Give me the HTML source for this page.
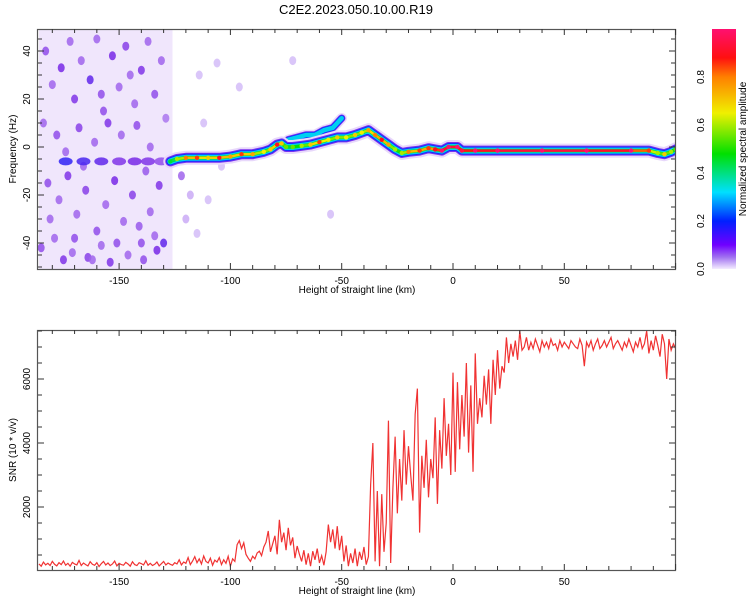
<!DOCTYPE html>
<html><head><meta charset="utf-8"><style>
body{margin:0;background:#fff;width:750px;height:600px;overflow:hidden}
svg{display:block;font-family:"Liberation Sans",sans-serif}
</style></head><body>
<svg id="chart" width="750" height="600" xmlns="http://www.w3.org/2000/svg">
<defs>
<linearGradient id="cbg" x1="0" y1="1" x2="0" y2="0">
<stop offset="0" stop-color="#f4ecff"/><stop offset="0.05" stop-color="#a070f0"/><stop offset="0.1" stop-color="#7000ff"/>
<stop offset="0.2" stop-color="#0020ff"/><stop offset="0.32" stop-color="#00e0ff"/><stop offset="0.48" stop-color="#00e000"/>
<stop offset="0.65" stop-color="#f0f000"/><stop offset="0.8" stop-color="#ff8000"/><stop offset="0.88" stop-color="#ff1010"/>
<stop offset="1" stop-color="#ff1070"/></linearGradient>
<clipPath id="c1"><rect x="38" y="30" width="637" height="239"/></clipPath>
<clipPath id="c2"><rect x="38" y="331" width="637" height="239"/></clipPath>
</defs>
<text x="356" y="14" font-size="13" text-anchor="middle">C2E2.2023.050.10.00.R19</text>
<g id="gtop" clip-path="url(#c1)"></g>
<g id="gbot" clip-path="url(#c2)"></g>
<g id="gaxes"></g>
<rect x="712" y="29" width="24" height="240" fill="url(#cbg)"/>
<text transform="translate(746,149) rotate(-90)" font-size="10" text-anchor="middle">Normalized spectral amplitude</text>
</svg>
<script>
const ridgeKm=[-127,-124,-120,-115,-110,-105,-100,-95,-90,-85,-82,-79,-77,-75,-72,-68,-64,-60,-56,-52,-48,-44,-41,-38,-35,-32,-29,-26,-23,-20,-15,-11,-8,-5,-2,2,4,10,20,40,60,80,88,92,95,98,100];
const ridgeF=[-6,-5,-4.5,-4.5,-4.5,-4.5,-4,-3,-3,-2,-1,1,1.5,0,0,0.5,1,2,3,4,4,5,6,7,5,3,1,-1,-2.5,-2,-1.5,-0.5,-1,-1.5,0,0,-1.5,-1.5,-1.5,-1.5,-1.5,-1.5,-1.5,-2.5,-3,-2,-1];
const ridgeAmp=[0.35,0.5,0.7,0.75,0.6,0.8,0.65,0.75,0.65,0.55,0.6,0.8,0.6,0.45,0.45,0.5,0.6,0.75,0.55,0.6,0.55,0.6,0.55,0.65,0.7,0.8,0.65,0.5,0.5,0.7,0.75,0.75,0.8,0.9,0.95,0.9,0.85,0.9,0.92,0.95,0.93,0.9,0.75,0.5,0.6,0.5,0.45];
const branchKm=[-74,-70,-66,-62,-58,-54,-52,-50];
const branchF=[3,4,5,5,7,8,10,12];
const blobKm=[-183,-180,-176,-172,-170,-167,-163,-160,-157,-153,-150,-147,-143,-140,-137,-134,-131,-129,-184,-178,-174,-168,-161,-155,-149,-142,-136,-182,-177,-173,-169,-165,-160,-156,-152,-148,-144,-140,-136,-132,-130,-185,-179,-175,-171,-164,-158,-154,-146,-139,-133,-181,-166,-158,-145,-138,-170,-162,-151,-141,-134,-174,-166,-158,-150,-143,-137,-131,-122,-118,-114,-110,-106,-115,-104,-96,-72,-55,-120,-112];
const blobF=[40,26,33,44,20,36,28,45,15,38,25,42,18,32,44,22,36,12,10,5,-2,8,2,10,5,9,0,-15,-22,-12,-28,-18,-35,-24,-14,-31,-20,-40,-27,-16,-40,-42,-38,-47,-44,-46,-41,-48,-45,-47,-43,-30,-8,22,30,-10,-38,-47,-40,-33,-37,-6,-6,-6,-6,-6,-6,-6,-12,-20,30,-22,35,-36,-8,25,36,-28,-30,10];
const blobA=[.12,.1,.15,.1,.14,.1,.16,.1,.12,.15,.1,.13,.1,.14,.1,.12,.1,.09,.1,.12,.1,.13,.1,.14,.1,.12,.1,.12,.1,.14,.1,.13,.12,.1,.15,.1,.13,.12,.1,.14,.16,.12,.1,.14,.1,.13,.1,.14,.1,.12,.15,.1,.1,.12,.1,.11,.12,.1,.12,.11,.1,.18,.17,.16,.14,.15,.14,.12,.1,.06,.05,.05,.05,.05,.05,.05,.05,.05,.06,.05];
const snrStart=-186;
const snr=[220,150,280,190,240,170,300,210,160,260,200,310,180,240,150,270,220,190,330,170,250,200,160,290,210,180,260,140,230,300,190,250,170,220,310,160,240,200,180,270,220,150,290,200,170,260,230,190,320,180,240,170,210,280,160,230,300,190,250,210,180,260,220,350,190,280,240,420,200,310,450,260,380,220,470,300,250,400,180,340,280,420,200,350,240,460,150,380,300,820,950,700,880,520,400,300,460,380,560,620,480,750,900,1250,600,850,1100,520,1600,900,1200,650,1350,800,1050,400,780,520,300,650,200,550,150,620,350,700,250,480,180,600,1450,900,1300,700,1400,650,1100,300,800,150,550,250,700,150,600,350,750,200,450,2700,4000,300,2500,150,2400,600,1500,4700,250,2600,4200,1800,3500,2200,4400,2700,3900,3000,2200,4900,5700,1200,3600,2600,4100,2300,3500,2900,4800,2100,4400,3200,5400,3600,4600,3000,6200,3100,5900,3800,5500,4200,6500,3700,5800,3100,6800,4600,5400,4800,6100,5200,6300,4600,6600,5500,6900,5700,6400,6200,7300,6500,7100,6700,7200,6600,7500,6900,7000,7300,6900,7150,6950,7250,7050,6850,7200,7000,7150,6950,7250,7050,7100,6900,7200,7000,7150,7050,6950,7200,7100,7000,6950,7250,7050,6400,7150,7000,7200,6900,7100,7250,6950,7050,7200,7000,7150,7300,6950,7100,7200,7050,6900,7150,7000,7250,7050,6850,7150,7000,7300,6950,7100,7500,6800,7200,6900,7350,7050,6700,7400,7100,6000,7250,6900,7100,6950];
const xTicks=[-150,-100,-50,0,50];
const fTicks=[-40,-20,0,20,40];
const sTicks=[2000,4000,6000];
const cTicks=[0,0.2,0.4,0.6,0.8];

const NS='http://www.w3.org/2000/svg';
const X=km=>453+km*2.226;
const YF=f=>147-f*2.4;
const YS=v=>571-v*0.032;
function mk(tag,attrs,parent){const e=document.createElementNS(NS,tag);for(const k in attrs)e.setAttribute(k,attrs[k]);parent.appendChild(e);return e;}
const stops=[[0,[244,236,255]],[0.05,[212,188,248]],[0.1,[160,100,236]],[0.15,[120,40,230]],[0.2,[0,32,255]],[0.32,[0,224,255]],[0.48,[0,224,0]],[0.65,[240,240,0]],[0.8,[255,128,0]],[0.88,[255,16,16]],[1,[255,16,112]]];
function cmap(a){for(let i=1;i<stops.length;i++){if(a<=stops[i][0]){const [a0,c0]=stops[i-1],[a1,c1]=stops[i];const t=(a-a0)/(a1-a0);return 'rgb('+c0.map((c,j)=>Math.round(c+(c1[j]-c)*t)).join(',')+')';}}return 'rgb(255,16,112)';}

const gTop=document.getElementById('gtop'),gBot=document.getElementById('gbot'),gAx=document.getElementById('gaxes');
const bg=mk('rect',{x:X(-186),y:30,width:X(-126)-X(-186),height:239,fill:'#f0e6fc'},gTop);


for(let i=0;i<blobKm.length;i++){
 const e=mk('ellipse',{cx:X(blobKm[i]),cy:YF(blobF[i]),rx:blobF[i]===-6?7:3.5,ry:blobF[i]===-6?4:4.5,fill:cmap(blobA[i]),opacity:0.85},gTop);
 
 
}
function pts(ks,fs){return ks.map((k,i)=>X(k)+','+YF(fs[i])).join(' ');}
const layers=[[14,'#e8d8fb'],[10,'#7a30f0'],[8,'#1030ff'],[6,'#00d0f0'],[3.5,'#00e020']];
layers.slice(0,4).forEach(([w,c])=>{
 const b=mk('polyline',{points:pts(branchKm,branchF),fill:'none',stroke:c,'stroke-width':w*0.75,'stroke-linecap':'round','stroke-linejoin':'round'},gTop);
 
 
});
layers.forEach(([w,c])=>{
 const p=mk('polyline',{points:pts(ridgeKm,ridgeF),fill:'none',stroke:c,'stroke-width':w,'stroke-linecap':'round','stroke-linejoin':'round'},gTop);
 
 
});
for(let i=0;i<ridgeKm.length-1;i++){
 const a=(ridgeAmp[i]+ridgeAmp[i+1])/2;
 const s=mk('line',{x1:X(ridgeKm[i]),y1:YF(ridgeF[i]),x2:X(ridgeKm[i+1]),y2:YF(ridgeF[i+1]),stroke:cmap(a),'stroke-width':2.5,'stroke-linecap':'round'},gTop);
 
 
}
for(let i=0;i<ridgeKm.length;i++){
 const c=mk('circle',{cx:X(ridgeKm[i]),cy:YF(ridgeF[i]),r:2.2,fill:cmap(Math.min(1,ridgeAmp[i]+0.1))},gTop);
 
 
}
const sp=mk('polyline',{points:snr.map((v,i)=>X(snrStart+i)+','+YS(v)).join(' '),fill:'none',stroke:'#f03232','stroke-width':1.2},gBot);


function frame(y0,y1,name){
 const r=mk('rect',{x:37.5,y:y0+0.5,width:638,height:y1-y0,fill:'none',stroke:'#555','stroke-width':1.2},gAx);
 
 
 for(let k=-180;k<=100;k+=10){const x=X(k),L=(k%50===0)?6:4;
  mk('line',{x1:x,y1:y0,x2:x,y2:y0+L,stroke:'#333'},gAx);mk('line',{x1:x,y1:y1,x2:x,y2:y1-L,stroke:'#333'},gAx);}
 xTicks.forEach(k=>{const t=mk('text',{x:X(k),y:y1+15,'font-size':10,'text-anchor':'middle'},gAx);t.textContent=k;
  
  });
 const xt=mk('text',{x:357,y:y1+24,'font-size':10,'text-anchor':'middle'},gAx);xt.textContent='Height of straight line (km)';
 
 
}
frame(29,269,'spectrogram-frame');frame(330,570,'snr-frame');
for(let f=-50;f<=45;f+=5){const y=YF(f),L=(f%20===0)?6:4;mk('line',{x1:38,y1:y,x2:38+L,y2:y,stroke:'#333'},gAx);mk('line',{x1:675,y1:y,x2:675-L,y2:y,stroke:'#333'},gAx);}
fTicks.forEach(f=>{const t=mk('text',{transform:`translate(30,${YF(f)}) rotate(-90)`,'font-size':10,'text-anchor':'middle'},gAx);t.textContent=f;
 
 });
for(let v=500;v<=7500;v+=500){const y=YS(v),L=(v%2000===0)?6:4;mk('line',{x1:38,y1:y,x2:38+L,y2:y,stroke:'#333'},gAx);mk('line',{x1:675,y1:y,x2:675-L,y2:y,stroke:'#333'},gAx);}
sTicks.forEach(v=>{const t=mk('text',{transform:`translate(30,${YS(v)}) rotate(-90)`,'font-size':10,'text-anchor':'middle'},gAx);t.textContent=v;
 
 });
const yt1=mk('text',{transform:'translate(16,149) rotate(-90)','font-size':10,'text-anchor':'middle'},gAx);yt1.textContent='Frequency (Hz)';


const yt2=mk('text',{transform:'translate(16,450) rotate(-90)','font-size':10,'text-anchor':'middle'},gAx);yt2.textContent='SNR (10 * v/v)';


cTicks.forEach(v=>{const y=269-v*240;const t=mk('text',{transform:`translate(704,${y}) rotate(-90)`,'font-size':10,'text-anchor':'middle'},gAx);t.textContent=v.toFixed(1);
 
 });
</script>
</body></html>
